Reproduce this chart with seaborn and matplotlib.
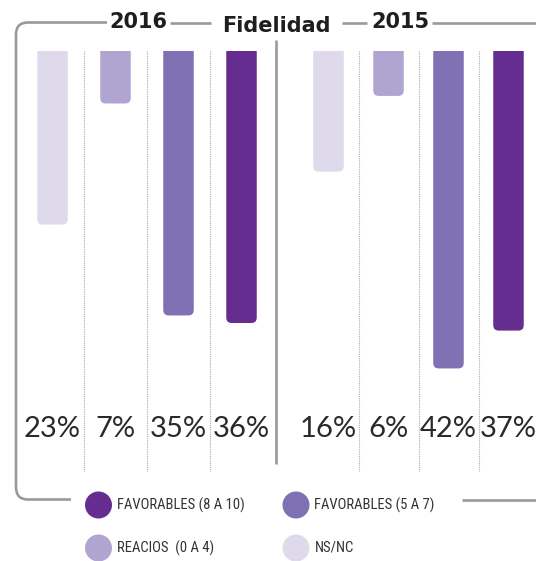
import matplotlib
matplotlib.use("Agg")
import matplotlib.pyplot as plt
import seaborn as sns
import pandas as pd
from matplotlib.patches import FancyBboxPatch, Circle, PathPatch
from matplotlib.path import Path

# ---- data -------------------------------------------------------------
categorias = ["NS/NC", "REACIOS  (0 A 4)", "FAVORABLES (5 A 7)", "FAVORABLES (8 A 10)"]
valores_2016 = [23, 7, 35, 36]
valores_2015 = [16, 6, 42, 37]
anios = ["2016", "2015"]
titulo = "Fidelidad"
colores = ["#DEDAEB", "#B0A5D0", "#8070B4", "#662D91"]
orden_leyenda = ["FAVORABLES (8 A 10)", "FAVORABLES (5 A 7)", "REACIOS  (0 A 4)", "NS/NC"]

# ---- figure setup (pixel based layout) --------------------------------
W, H, DPI = 536, 561, 100
sns.set_theme(style="white")
plt.rcParams["font.family"] = ["Lato", "DejaVu Sans"]

fig = plt.figure(figsize=(W / DPI, H / DPI), dpi=DPI)
fig.patch.set_facecolor("white")

GRIS = "#9A9A9A"
TEXTO = "#2A2A2A"
paleta = dict(zip(categorias, colores))


def px_axes(left, top, right, bottom):
    return fig.add_axes([left / W, 1 - bottom / H, (right - left) / W, (bottom - top) / H])


# background axes in pixel units for the frame and the legend
bg = px_axes(0, 0, W, H)
bg.set_xlim(0, W)
bg.set_ylim(H, 0)
bg.set_axis_off()

# rounded frame on the left side
verts = [(107, 22.5), (28, 22.5), (16, 22.5), (16, 34.5), (16, 487), (16, 499.5), (28, 499.5), (71, 499.5)]
codes = [Path.MOVETO, Path.LINETO, Path.CURVE3, Path.CURVE3, Path.LINETO, Path.CURVE3, Path.CURVE3, Path.LINETO]
bg.add_patch(PathPatch(Path(verts, codes), fill=False, edgecolor=GRIS, lw=1.9, capstyle="butt"))
for (x0, x1, y) in [(170, 211, 22.5), (342, 367, 22.5), (432, W, 22.5), (462, W, 499.5)]:
    bg.plot([x0, x1], [y, y], color=GRIS, lw=1.9, solid_capstyle="butt")
# divider between the two years
bg.plot([276, 276], [40, 464], color=GRIS, lw=1.9, solid_capstyle="butt")

# titles
tit_kw = dict(ha="center", va="baseline", fontsize=15, fontweight="bold",
              color="#1E1E1E", family="DejaVu Sans")
bg.text(138.5, 28, anios[0], **tit_kw)
bg.text(400, 28, anios[1], **tit_kw)
bg.text(276.5, 32, titulo, **tit_kw)

# ---- bar panels -------------------------------------------------------
PX_POR_PCT = 7.57
TOP, BOTTOM = 50.5, 472
ymax = (BOTTOM - TOP) / PX_POR_PCT
BAR_PX = 30.5

paneles = [
    (valores_2016, 21, 273),
    (valores_2015, 298.5, 538.5),
]

for valores, left, right in paneles:
    ax = px_axes(left, TOP, right, BOTTOM)
    px_unit = (right - left) / 4.0
    df = pd.DataFrame({"categoria": categorias, "valor": valores})
    sns.barplot(data=df, x="categoria", y="valor", hue="categoria", order=categorias,
                palette=paleta, legend=False, width=BAR_PX / px_unit, ax=ax,
                saturation=1, edgecolor="none")
    ax.set_xlim(-0.5, 3.5)
    ax.set_ylim(ymax, 0)
    ax.set_axis_off()

    # replace plain rectangles with bars rounded at the bottom
    aspect = px_unit / PX_POR_PCT
    radio = 5.5 / px_unit
    for rect in list(ax.patches):
        x, w, h = rect.get_x(), rect.get_width(), rect.get_height()
        fb = FancyBboxPatch((x, -3), w, h + 3,
                            boxstyle=f"round,pad=0,rounding_size={radio}",
                            mutation_aspect=aspect, facecolor=rect.get_facecolor(),
                            edgecolor="none")
        rect.remove()
        ax.add_patch(fb)

    # dotted separators between columns
    ax.vlines([0.5, 1.5, 2.5], 0, ymax, colors="#ABABAB", linestyles=(0, (1, 1)), lw=0.8)

    # value labels
    y_lab = (437 - TOP) / PX_POR_PCT
    for i, v in enumerate(valores):
        ax.text(i, y_lab, f"{v}%", ha="center", va="baseline", fontsize=21,
                fontweight="normal", color=TEXTO)

# ---- legend -----------------------------------------------------------
pos_leyenda = [(98.5, 505), (296, 505), (98.5, 548), (296, 548)]
for nombre, (cx, cy) in zip(orden_leyenda, pos_leyenda):
    bg.add_patch(Circle((cx, cy), 13.5, facecolor=paleta[nombre], edgecolor="none"))
    bg.text(cx + 18.5, cy, nombre, ha="left", va="center", fontsize=10.5,
            family=["Roboto Condensed", "DejaVu Sans"], fontstretch="condensed",
            color="#333333")

fig.savefig("out.png", dpi=DPI, facecolor="white")
